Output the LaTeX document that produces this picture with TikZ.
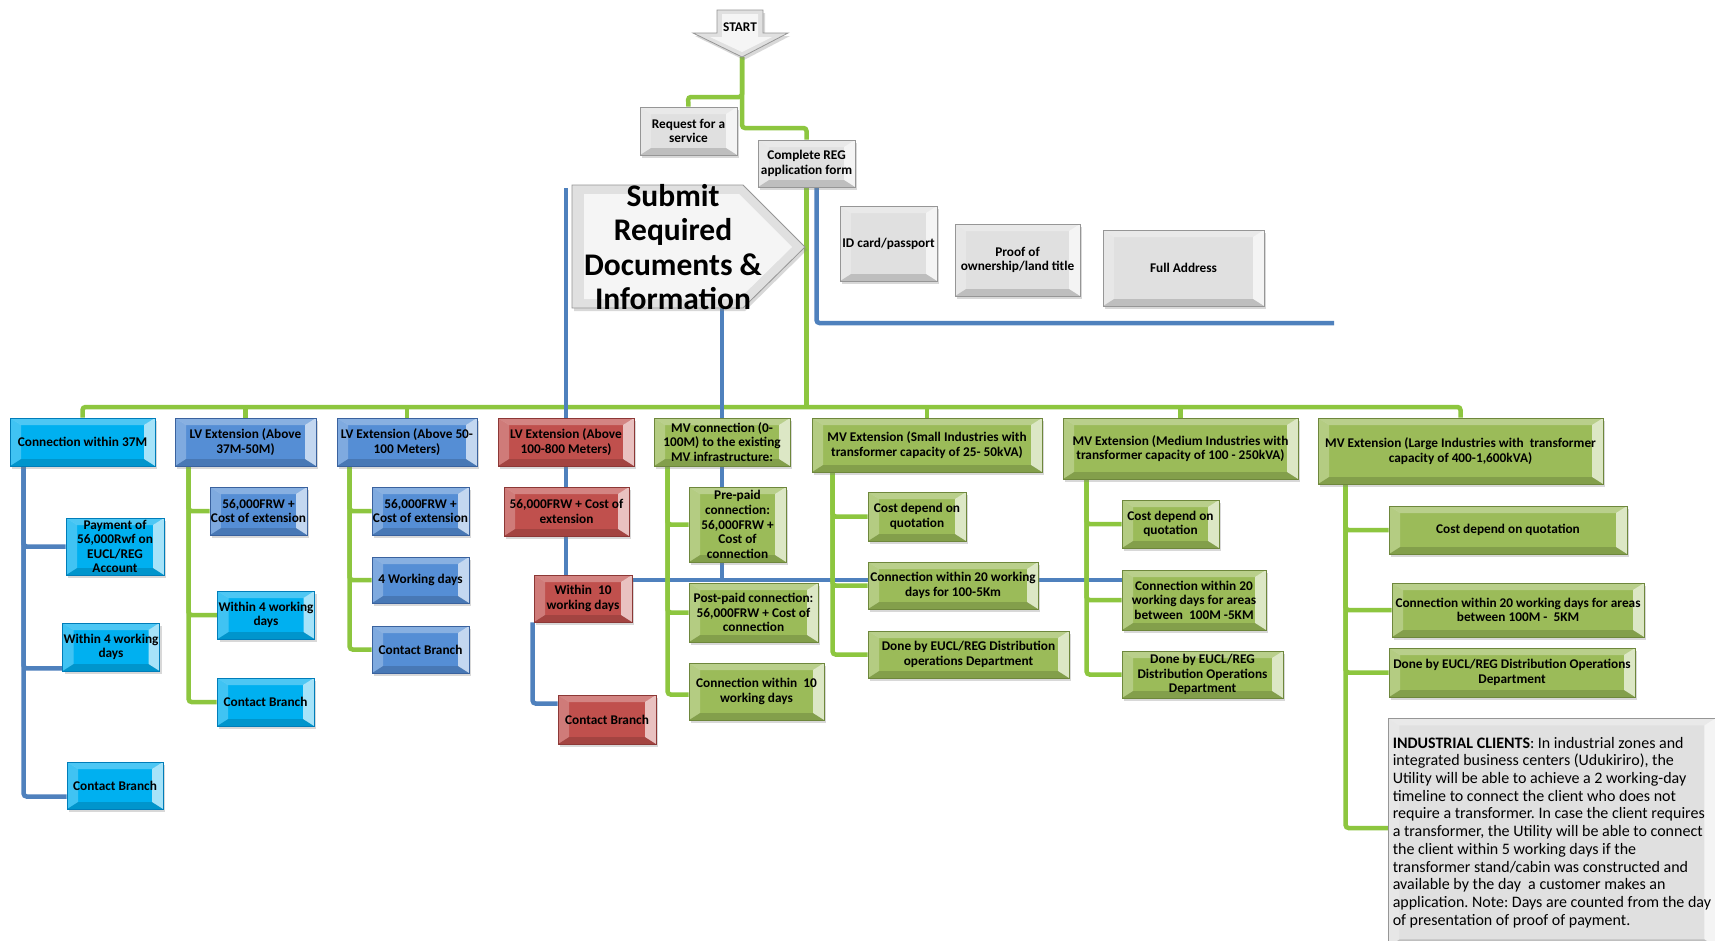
\documentclass[tikz,border=0pt]{standalone}
\usepackage{fontspec}
\setmainfont{Carlito}
\frenchspacing
\usetikzlibrary{shadows,backgrounds}

\definecolor{cyanfill}{RGB}{0,176,240}
\definecolor{cyanedge}{RGB}{0,125,185}
\definecolor{bluefill}{RGB}{85,142,213}
\definecolor{blueedge}{RGB}{58,98,158}
\definecolor{redfill}{RGB}{192,80,77}
\definecolor{rededge}{RGB}{140,56,54}
\definecolor{greenfill}{RGB}{155,187,89}
\definecolor{greenedge}{RGB}{110,135,60}
\definecolor{greyfill}{RGB}{224,224,224}
\definecolor{greyedge}{RGB}{150,150,150}
\definecolor{linegreen}{RGB}{141,198,63}
\definecolor{lineblue}{RGB}{79,129,189}

\tikzset{
  bevel/.style={path picture={
    \coordinate (bnw) at (path picture bounding box.north west);
    \coordinate (bse) at (path picture bounding box.south east);
    \coordinate (inw) at ([shift={(11pt,-7pt)}]bnw);
    \coordinate (ise) at ([shift={(-11pt,7pt)}]bse);
    \fill[white,opacity=.30] (bnw) -- (bnw -| bse) -- (inw -| ise) -- (inw) -- cycle;
    \fill[white,opacity=.65] (bnw -| bse) -- (bse) -- (ise) -- (inw -| ise) -- cycle;
    \fill[black,opacity=.15] (bse) -- (bse -| bnw) -- (ise -| inw) -- (ise) -- cycle;
    \fill[white,opacity=.25] (bnw) -- (inw) -- (ise -| inw) -- (bse -| bnw) -- cycle;
  }},
  box/.style={rectangle, draw, line width=.8pt, align=center, inner sep=1pt,
    font=\fontsize{13.3}{14.6}\selectfont\bfseries,
    drop shadow={shadow xshift=2pt,shadow yshift=-3pt,opacity=.3}, bevel},
  cyanbox/.style={box, fill=cyanfill, draw=cyanedge},
  bluebox/.style={box, fill=bluefill, draw=blueedge},
  redbox/.style={box, fill=redfill, draw=rededge},
  greenbox/.style={box, fill=greenfill, draw=greenedge},
  greybox/.style={box, fill=greyfill, draw=greyedge},
  greyshape/.style={fill=greyfill, draw=greyedge, line width=.8pt,
    drop shadow={shadow xshift=2pt,shadow yshift=-3pt,opacity=.3}},
  gline/.style={draw=linegreen, line width=4.5pt, rounded corners=3pt},
  bline/.style={draw=lineblue, line width=4.5pt, rounded corners=3pt}
}

\begin{document}
\begin{tikzpicture}[x=1pt,y=-1pt]
  \useasboundingbox (0,0) rectangle (1715,940);

  % start arrow and the big submit arrow
  \filldraw[greyshape] (717,10) -- (763,10) -- (763,33) -- (788,33) -- (742,57)
    -- (693,33) -- (717,33) -- cycle;
  \fill[white,opacity=.7] (722,14) -- (758,14) -- (758,37) -- (772,37) -- (742,52)
    -- (710,37) -- (722,37) -- cycle;
  \node[font=\fontsize{13.3}{14.6}\selectfont\bfseries] (start) at (740,27) {START};
  \coordinate (starttip) at (742,57);

  \filldraw[greyshape] (572,185) -- (743,185) -- (805,247) -- (743,308) -- (572,308) -- cycle;
  \fill[white,opacity=.7] (584,194) -- (739,194) -- (792,247) -- (739,299) -- (584,299) -- cycle;
  \node[align=center, font=\fontsize{31.5}{34.5}\selectfont\bfseries] (submit) at (673,247)
    {Submit\\Required\\Documents \&\\Information};

  \node[greybox, minimum width=97pt, minimum height=48pt] (req) at (688.5,131) {Request for a\\service};
  \node[greybox, minimum width=97pt, minimum height=47pt] (comp) at (806.5,163.5) {Complete REG\\application form};
  \node[greybox, minimum width=97pt, minimum height=75pt] (idc) at (888.5,243.5) {ID card/passport};
  \node[greybox, minimum width=125pt, minimum height=72pt] (proof) at (1017.5,260) {Proof of\\ownership/land title};
  \node[greybox, minimum width=161pt, minimum height=76pt] (addr) at (1183.5,268) {Full Address};
  \coordinate (bstart) at (566,188);
  \coordinate (bend) at (1334,323);
  \coordinate (bus) at (0,407);
  \coordinate (bcross) at (0,580);

  % first row
  \node[cyanbox, minimum width=145pt, minimum height=48pt] (c1) at (82.5,442) {Connection within 37M};
  \node[bluebox, minimum width=141pt, minimum height=48pt] (c2) at (245.5,442) {LV Extension (Above\\37M-50M)};
  \node[bluebox, minimum width=140pt, minimum height=48pt] (c3) at (407,442) {LV Extension (Above 50-\\100 Meters)};
  \node[redbox, minimum width=136pt, minimum height=48pt] (c4) at (566,442) {LV Extension (Above\\100-800 Meters)};
  \node[greenbox, minimum width=136pt, minimum height=48pt] (c5) at (722,442) {MV connection (0-\\100M) to the existing\\MV infrastructure:};
  \node[greenbox, minimum width=230pt, minimum height=54pt] (c6) at (927,445) {MV Extension (Small Industries with\\transformer capacity of 25- 50kVA)};
  \node[greenbox, minimum width=235pt, minimum height=61pt] (c7) at (1180.5,448.5) {MV Extension (Medium Industries with\\transformer capacity of 100 - 250kVA)};
  \node[greenbox, minimum width=285pt, minimum height=66pt] (c8) at (1460.5,451) {MV Extension (Large Industries with\ \ transformer\\capacity of 400-1,600kVA)};

  % columns
  \node[cyanbox, minimum width=98pt, minimum height=57pt] (c1a) at (115,546.5) {Payment of\\56,000Rwf on\\EUCL/REG\\Account};
  \node[cyanbox, minimum width=96pt, minimum height=48pt] (c1b) at (111,647) {Within 4 working\\days};
  \node[cyanbox, minimum width=96pt, minimum height=47pt] (c1c) at (115,785.5) {Contact Branch};

  \node[bluebox, minimum width=97pt, minimum height=48pt] (c2a) at (258.5,511) {56,000FRW +\\Cost of extension};
  \node[cyanbox, minimum width=96pt, minimum height=48pt] (c2b) at (266,615) {Within 4 working\\days};
  \node[cyanbox, minimum width=97pt, minimum height=48pt] (c2c) at (265.5,702) {Contact Branch};

  \node[bluebox, minimum width=97pt, minimum height=48pt] (c3a) at (420.5,511) {56,000FRW +\\Cost of extension};
  \node[bluebox, minimum width=97pt, minimum height=46pt] (c3b) at (420.5,580) {4 Working days};
  \node[bluebox, minimum width=97pt, minimum height=47pt] (c3c) at (420.5,649.5) {Contact Branch};

  \node[redbox, minimum width=125pt, minimum height=49pt] (c4a) at (566.5,511.5) {56,000FRW + Cost of\\extension};
  \node[redbox, minimum width=98pt, minimum height=47pt] (c4b) at (583,598.5) {Within\ \ 10\\working days};
  \node[redbox, minimum width=98pt, minimum height=49pt] (c4c) at (607,719.5) {Contact Branch};

  \node[greenbox, minimum width=97pt, minimum height=75pt] (c5a) at (737.5,524.5) {Pre-paid\\connection:\\56,000FRW +\\Cost of\\connection};
  \node[greenbox, minimum width=129pt, minimum height=59pt] (c5b) at (753.5,612.5) {Post-paid connection:\\56,000FRW + Cost of\\connection};
  \node[greenbox, minimum width=135pt, minimum height=57pt] (c5c) at (756.5,691.5) {Connection within\ \ 10\\working days};

  \node[greenbox, minimum width=98pt, minimum height=49pt] (c6a) at (917,516.5) {Cost depend on\\quotation};
  \node[greenbox, minimum width=170pt, minimum height=47pt] (c6b) at (953,585.5) {Connection within 20 working\\days for 100-5Km};
  \node[greenbox, minimum width=201pt, minimum height=47pt] (c6c) at (968.5,654.5) {Done by EUCL/REG Distribution\\operations Department};

  \node[greenbox, minimum width=97pt, minimum height=48pt] (c7a) at (1170.5,524) {Cost depend on\\quotation};
  \node[greenbox, minimum width=144pt, minimum height=60pt] (c7b) at (1194,600) {Connection within 20\\working days for areas\\between\ \ 100M -5KM};
  \node[greenbox, minimum width=161pt, minimum height=47pt] (c7c) at (1202.5,674.5) {Done by EUCL/REG\\Distribution Operations\\Department};

  \node[greenbox, minimum width=238pt, minimum height=48pt] (c8a) at (1508,530) {Cost depend on quotation};
  \node[greenbox, minimum width=252pt, minimum height=54pt] (c8b) at (1518,610) {Connection within 20 working days for areas\\between 100M -\ \ 5KM};
  \node[greenbox, minimum width=246pt, minimum height=49pt] (c8c) at (1512,672.5) {Done by EUCL/REG Distribution Operations\\Department};
  \node[greybox, anchor=north west, minimum width=327pt, minimum height=228pt, align=left,
    inner xsep=2pt, font=\fontsize{16}{17.7}\selectfont] (c8d) at (1388,718)
    {\textbf{INDUSTRIAL CLIENTS}: In industrial zones and\\
     integrated business centers (Udukiriro), the\\
     Utility will be able to achieve a 2 working-day\\
     timeline to connect the client who does not\\
     require a transformer. In case the client requires\\
     a transformer, the Utility will be able to connect\\
     the client within 5 working days if the\\
     transformer stand/cabin was constructed and\\
     available by the day\ \ a customer makes an\\
     application. Note: Days are counted from the day\\
     of presentation of proof of payment.};

  \begin{scope}[on background layer]
    \fill[white] (0,0) rectangle (1715,940);
    \draw[gline] (starttip) |- (688,97) -- (req.north);
    \draw[gline] (starttip) |- (742,97) |- (comp.north |- 0,128) -- (comp.north);
    \draw[gline] (comp.south) -- (comp.south |- bus);
    \draw[bline] ([xshift=10pt]comp.south) |- (bend);
    \draw[gline] (c1.north) |- (bus -| c8.north) -- (c8.north);
    \draw[gline] (bus -| c2.north) -- (c2.north);
    \draw[gline] (bus -| c3.north) -- (c3.north);
    \draw[gline] (bus -| c6.north) -- (c6.north);
    \draw[gline] (bus -| c7.north) -- (c7.north);

    \draw[bline] ([xshift=14pt]c1.south west) |- (c1a.west);
    \draw[bline] ([xshift=14pt]c1.south west) |- ([yshift=3pt]c1b.south west);
    \draw[bline] ([xshift=14pt]c1.south west) |- ([yshift=-11pt]c1c.west);

    \draw[gline] ([xshift=14pt]c2.south west) |- (c2a.west);
    \draw[gline] ([xshift=14pt]c2.south west) |- (c2b.west);
    \draw[gline] ([xshift=14pt]c2.south west) |- (c2c.west);

    \draw[gline] ([xshift=13pt]c3.south west) |- (c3a.west);
    \draw[gline] ([xshift=13pt]c3.south west) |- (c3b.west);
    \draw[gline] ([xshift=13pt]c3.south west) |- (c3c.west);

    \draw[bline] (bstart) -- (c4b.north -| bstart);
    \draw[bline] ([xshift=-1pt]c4b.south west) |- ([yshift=16pt]c4c.west);
    \draw[bline] (c4b.east |- bcross) -- (c7b.west |- bcross);

    \draw[bline] ([yshift=20pt]submit.south -| c5.north) -- (c5.north |- bcross);
    \draw[gline] ([xshift=14pt]c5.south west) |- (c5a.west);
    \draw[gline] ([xshift=14pt]c5.south west) |- (c5b.west);
    \draw[gline] ([xshift=14pt]c5.south west) |- ([yshift=-3pt]c5c.west);

    \draw[gline] ([xshift=21pt]c6.south west) |- (c6a.west);
    \draw[gline] ([xshift=21pt]c6.south west) |- (c6b.west);
    \draw[gline] ([xshift=21pt]c6.south west) |- (c6c.west);

    \draw[gline] ([xshift=24pt]c7.south west) |- (c7a.west);
    \draw[gline] ([xshift=24pt]c7.south west) |- (c7b.west);
    \draw[gline] ([xshift=24pt]c7.south west) |- (c7c.west);

    \draw[gline] ([xshift=28pt]c8.south west) |- (c8a.west);
    \draw[gline] ([xshift=28pt]c8.south west) |- (c8b.west);
    \draw[gline] ([xshift=28pt]c8.south west) |- (c8c.west);
    \draw[gline] ([xshift=28pt]c8.south west) |- ([yshift=-110pt]c8d.north west);
  \end{scope}
\end{tikzpicture}
\end{document}
